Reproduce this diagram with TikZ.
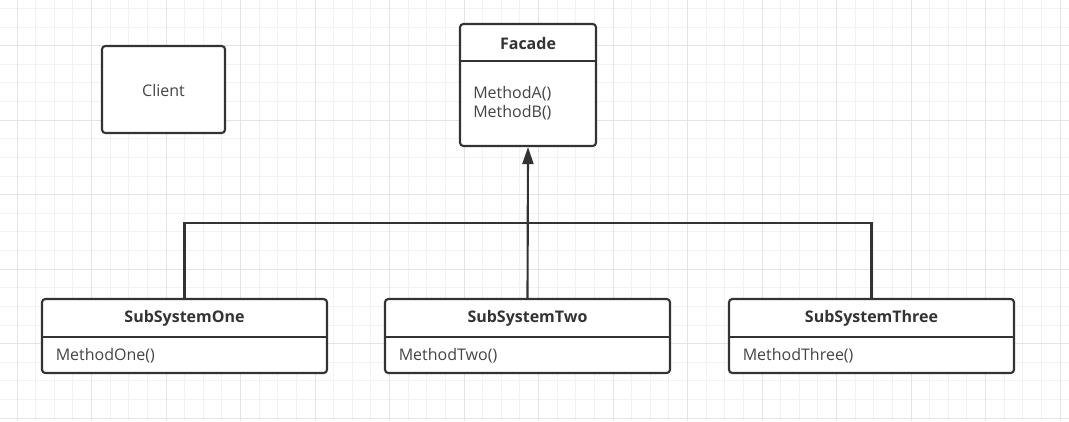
\documentclass[tikz,border=0pt]{standalone}
\usepackage{fontspec}
\setmainfont{Open Sans}
\usetikzlibrary{arrows.meta}
\definecolor{minorgrid}{HTML}{F2F2F2}
\definecolor{majorgrid}{HTML}{E4E4E4}
\definecolor{ink}{HTML}{333333}
\definecolor{txt}{HTML}{444444}
\tikzset{
  box/.style={draw=ink, line width=1.6pt, rounded corners=2.5pt, fill=white, inner sep=0pt},
  title/.style={font=\fontsize{12pt}{14pt}\selectfont\bfseries, text=ink, inner sep=0pt},
  meth/.style={font=\fontsize{12pt}{14.25pt}\selectfont, text=txt, inner sep=0pt, align=left},
  conn/.style={draw=ink, line width=1.6pt},
}
\begin{document}
\begin{tikzpicture}[x=0.75pt,y=-0.75pt]
\useasboundingbox (0,0) rectangle (1069,421);
\fill[white] (0,0) rectangle (1069,421);
% grid
\foreach \i in {0,...,58} {
  \draw[minorgrid, line width=0.75pt] ({-1.6+18.625*\i},0) -- ({-1.6+18.625*\i},421);
}
\foreach \j in {0,...,22} {
  \draw[minorgrid, line width=0.75pt] (0,{8.45+18.625*\j}) -- (1069,{8.45+18.625*\j});
}
\foreach \i in {0,...,14} {
  \draw[majorgrid, line width=0.75pt] ({17+74.5*\i},0) -- ({17+74.5*\i},421);
}
\foreach \j in {0,...,5} {
  \draw[majorgrid, line width=0.75pt] (0,{45.7+74.5*\j}) -- (1069,{45.7+74.5*\j});
}
% Client
\node[box, minimum width=92.25pt, minimum height=65.25pt] (client) at (163.5,89.5) {};
\node[meth] (clientlabel) at (163.5,90) {Client};
% Facade
\node[box, minimum width=102pt, minimum height=91.5pt] (facade) at (528,85) {};
\draw[conn] (facade.west |- 0,61) -- (facade.east |- 0,61);
\node[title] (facadetitle) at (528,43) {Facade};
\node[meth, anchor=north west] (facademeth) at (473,86) {MethodA()\\MethodB()};
% Subsystems
\foreach \nm/\cx/\t/\m in {s1/184.5/SubSystemOne/MethodOne(), s2/527.5/SubSystemTwo/MethodTwo(), s3/871.5/SubSystemThree/MethodThree()} {
  \node[box, minimum width=213.75pt, minimum height=55.5pt] (\nm) at (\cx,336) {};
  \draw[conn] (\nm.west |- 0,337) -- (\nm.east |- 0,337);
  \node[title] (\nm title) at (\cx,318.5) {\t};
  \node[meth, anchor=west] (\nm meth) at ({\cx-129},355.5) {\m};
}
% connectors
\coordinate (junction) at (527.5,223);
\draw[conn] (s1.north) |- (junction) -| (s3.north);
\draw[conn, -{Triangle[length=12.75pt,width=8.25pt]}] (s2.north) -- (facade.south);
\end{tikzpicture}
\end{document}
